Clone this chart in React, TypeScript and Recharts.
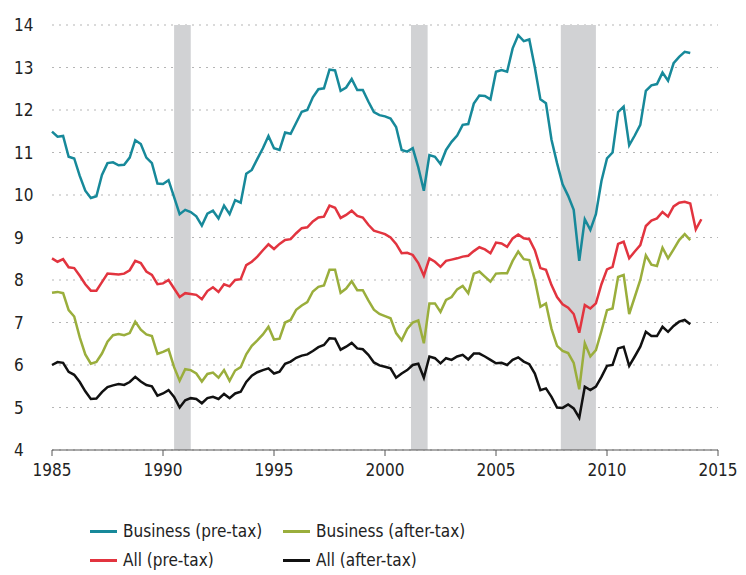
import { CartesianGrid, Line, LineChart, ReferenceArea, XAxis, YAxis } from 'recharts';

// quarterly, starting 1985 Q1
const startYear = 1985;

const businessPreTax = [
  11.49, 11.37, 11.39, 10.9, 10.86, 10.45, 10.1, 9.93, 9.97, 10.47, 10.75, 10.77, 10.7, 10.71, 10.88, 11.29,
  11.2, 10.88, 10.75, 10.27, 10.26, 10.35, 9.95, 9.55, 9.65, 9.6, 9.5, 9.28, 9.56, 9.63, 9.45, 9.75,
  9.55, 9.88, 9.82, 10.5, 10.59, 10.85, 11.1, 11.39, 11.1, 11.06, 11.47, 11.44, 11.7, 11.96, 12.0, 12.3,
  12.49, 12.51, 12.95, 12.93, 12.45, 12.53, 12.73, 12.47, 12.47, 12.2, 11.95, 11.88, 11.85, 11.8, 11.6, 11.06,
  11.02, 11.1, 10.65, 10.1, 10.94, 10.9, 10.73, 11.06, 11.25, 11.4, 11.65, 11.67, 12.15, 12.34, 12.33, 12.25,
  12.9, 12.94, 12.9, 13.45, 13.76, 13.62, 13.66, 13.0, 12.25, 12.16, 11.3, 10.75, 10.25, 9.98, 9.65, 8.45,
  9.43, 9.18, 9.55, 10.33, 10.86, 11.0, 11.95, 12.08, 11.17, 11.4, 11.65, 12.45, 12.58, 12.61, 12.88, 12.69,
  13.1, 13.25, 13.37, 13.34,
];

const businessAfterTax = [
  7.7, 7.72, 7.69, 7.29, 7.14, 6.65, 6.25, 6.03, 6.07, 6.27, 6.55, 6.7, 6.73, 6.7, 6.75, 7.02,
  6.83, 6.72, 6.68, 6.26, 6.31, 6.37, 5.95, 5.63, 5.9, 5.88, 5.8, 5.61, 5.79, 5.82, 5.7, 5.88,
  5.63, 5.87, 5.95, 6.25, 6.45, 6.58, 6.72, 6.9, 6.6, 6.62, 7.0, 7.06, 7.3, 7.4, 7.48, 7.73,
  7.84, 7.87, 8.24, 8.24, 7.7, 7.8, 7.97, 7.76, 7.76, 7.52, 7.3, 7.2, 7.15, 7.1, 6.75, 6.58,
  6.85, 7.0, 7.05, 6.51, 7.45, 7.45, 7.25, 7.53, 7.6, 7.78, 7.86, 7.69, 8.15, 8.2, 8.08, 7.96,
  8.15, 8.16, 8.16, 8.45, 8.67, 8.49, 8.47, 8.0, 7.37, 7.45, 6.85, 6.45, 6.33, 6.28, 6.05, 5.43,
  6.51, 6.2, 6.35, 6.8, 7.29, 7.33, 8.07, 8.12, 7.2, 7.6, 8.0, 8.58, 8.36, 8.33, 8.76, 8.51,
  8.72, 8.94, 9.08, 8.94,
];

const allPreTax = [
  8.51, 8.43, 8.49, 8.3, 8.28, 8.1, 7.9, 7.75, 7.75, 7.95, 8.15, 8.14, 8.13, 8.15, 8.23, 8.45,
  8.4, 8.2, 8.12, 7.9, 7.92, 8.0, 7.8, 7.6, 7.69, 7.67, 7.65, 7.55, 7.74, 7.83, 7.72, 7.9,
  7.85, 8.0, 8.02, 8.35, 8.43, 8.55, 8.7, 8.84, 8.73, 8.85, 8.94, 8.96, 9.1, 9.22, 9.24, 9.38,
  9.47, 9.49, 9.75, 9.7, 9.46, 9.53, 9.63, 9.51, 9.47, 9.3, 9.16, 9.12, 9.08, 9.0, 8.85, 8.63,
  8.64, 8.59, 8.4, 8.1, 8.51, 8.43, 8.31, 8.45, 8.48, 8.51, 8.55, 8.57, 8.68, 8.77, 8.72, 8.63,
  8.88, 8.86, 8.78, 8.98, 9.07, 8.98, 8.96, 8.7, 8.28, 8.24, 7.88, 7.6, 7.43, 7.35, 7.2, 6.76,
  7.41, 7.33, 7.45, 7.9, 8.25, 8.31, 8.85, 8.9, 8.51, 8.67, 8.82, 9.27, 9.4, 9.45, 9.6, 9.49,
  9.73, 9.82, 9.84, 9.8, 9.19, 9.43,
];

const allAfterTax = [
  6.0, 6.07, 6.05, 5.84, 5.77, 5.6, 5.38, 5.2, 5.21, 5.36, 5.48, 5.52, 5.55, 5.53, 5.6, 5.72,
  5.61, 5.53, 5.5, 5.28, 5.33, 5.41, 5.25, 5.0, 5.17, 5.22, 5.2, 5.1, 5.22, 5.25, 5.2, 5.32,
  5.22, 5.33, 5.37, 5.6, 5.75, 5.83, 5.88, 5.92, 5.8, 5.84, 6.03, 6.08, 6.17, 6.22, 6.25, 6.33,
  6.42, 6.47, 6.63, 6.62, 6.36, 6.43, 6.52, 6.39, 6.37, 6.24, 6.06, 5.99, 5.96, 5.92, 5.7, 5.8,
  5.88, 6.0, 6.03, 5.7, 6.2, 6.16, 6.04, 6.16, 6.12, 6.2, 6.24, 6.13, 6.27, 6.27, 6.2, 6.12,
  6.04, 6.05, 6.0, 6.12, 6.18, 6.08, 6.02, 5.8, 5.41, 5.45, 5.25, 5.0, 4.99, 5.07, 4.98, 4.76,
  5.49, 5.41, 5.49, 5.72, 5.98, 6.0, 6.39, 6.43, 5.98, 6.2, 6.43, 6.78, 6.68, 6.68, 6.9, 6.78,
  6.92, 7.02, 7.06, 6.96,
];

const recessions = [
  [1990.5, 1991.25],
  [2001.17, 2001.92],
  [2007.92, 2009.5],
];

const xTicks = [1985, 1990, 1995, 2000, 2005, 2010, 2015];
const yTicks = [4, 5, 6, 7, 8, 9, 10, 11, 12, 13, 14];

const series = [
  { key: 'bizPre', name: 'Business (pre-tax)', color: '#17899a' },
  { key: 'bizAfter', name: 'Business (after-tax)', color: '#9aae3c' },
  { key: 'allPre', name: 'All (pre-tax)', color: '#e2343f' },
  { key: 'allAfter', name: 'All (after-tax)', color: '#111111' },
];

const data = allPreTax.map((v, i) => ({
  t: startYear + i / 4,
  bizPre: businessPreTax[i] ?? null,
  bizAfter: businessAfterTax[i] ?? null,
  allPre: v,
  allAfter: allAfterTax[i] ?? null,
}));

const font = '"Liberation Sans Narrow", "DejaVu Sans Condensed", "Open Sans", sans-serif';

const YTick = ({ y, payload }: any) => (
  <text x={14} y={y} dy={6} fontSize={17} fill="#222" fontFamily={font}>
    {payload.value}
  </text>
);

export default function App() {
  return (
    <div style={{ position: 'absolute', left: 0, top: 0, width: 746, height: 575, background: '#fff', fontFamily: font }}>
      <LineChart width={746} height={500} data={data} margin={{ top: 25, right: 28, left: 8, bottom: 20 }}>
        {recessions.map(([a, b]) => (
          <ReferenceArea key={a} x1={a} x2={b} y1={4} y2={14} fill="#d1d2d4" fillOpacity={1} stroke="none" ifOverflow="visible" />
        ))}
        <CartesianGrid vertical={false} stroke="#b5b5b5" strokeDasharray="2 5" />
        <XAxis
          dataKey="t"
          type="number"
          domain={[1985, 2015]}
          ticks={xTicks}
          height={30}
          tickSize={6}
          tickMargin={8}
          stroke="#555"
          tick={{ fontSize: 17, fill: '#222', fontFamily: font }}
        />
        <YAxis
          domain={[4, 14]}
          ticks={yTicks}
          width={44}
          axisLine={false}
          tickLine={false}
          tick={<YTick />}
        />
        {series.map((s) => (
          <Line
            key={s.key}
            dataKey={s.key}
            stroke={s.color}
            strokeWidth={2.5}
            dot={false}
            type="linear"
            connectNulls={false}
            isAnimationActive={false}
          />
        ))}
      </LineChart>
      <div
        style={{
          position: 'absolute',
          left: 90,
          top: 519,
          display: 'grid',
          gridTemplateColumns: '193px 200px',
          rowGap: 5,
          fontSize: 17,
          color: '#222',
        }}
      >
        {series.map((s) => (
          <div key={s.key} style={{ display: 'flex', alignItems: 'center', height: 24 }}>
            <span style={{ display: 'inline-block', width: 27, height: 3, background: s.color, marginRight: 6 }} />
            <span>{s.name}</span>
          </div>
        ))}
      </div>
    </div>
  );
}
